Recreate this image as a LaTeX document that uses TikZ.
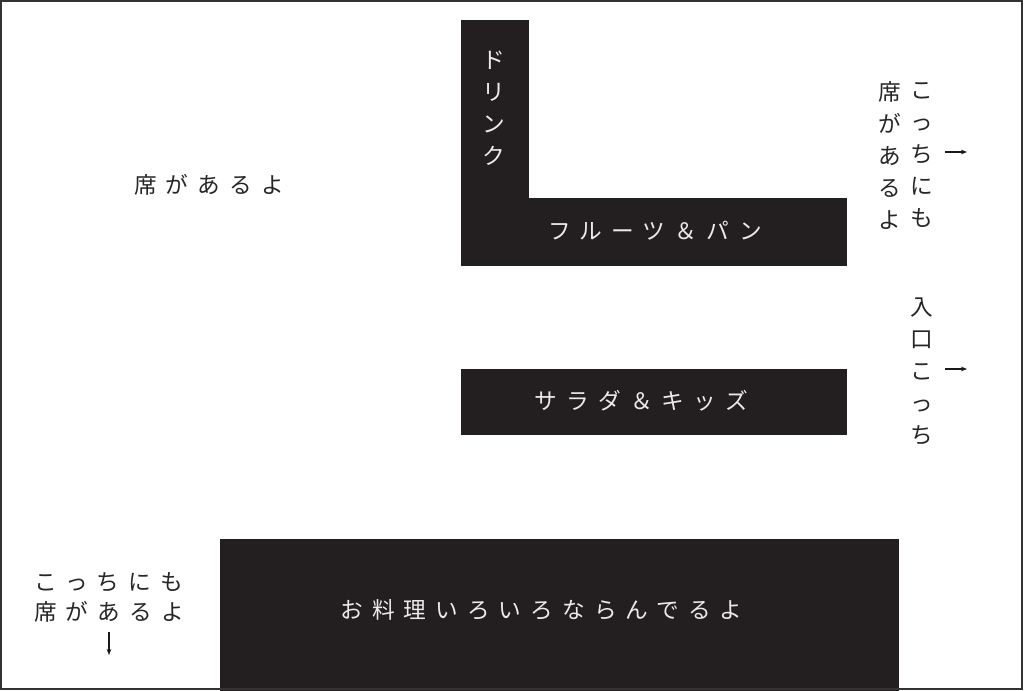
\documentclass[tikz,border=0pt]{standalone}
\usepackage{fontspec}
\newfontfamily\jpfont[LetterSpace=40]{Noto Sans CJK JP}
\newfontfamily\jpcol{Noto Sans CJK JP}
\usetikzlibrary{arrows.meta,positioning}
\definecolor{boothdark}{HTML}{231F20}
\definecolor{framegray}{HTML}{333333}

\begin{document}
\begin{tikzpicture}[
    x=0.75pt, y=-0.75pt,
    booth/.style={rectangle, draw=boothdark, fill=boothdark, inner sep=0pt, outer sep=0pt},
    boothtext/.style={text=white!92!black, font=\jpfont\fontsize{17}{24}\selectfont, inner sep=0pt},
    note/.style={text=black!85, font=\jpfont\fontsize{17}{22.5}\selectfont, align=center, inner sep=0pt},
    column/.style={text=black!85, font=\jpcol\fontsize{17}{24}\selectfont, align=center, inner sep=0pt},
    pointer/.style={-{Stealth[length=4.5pt,width=3.5pt]}, line width=0.9pt, black!90}
]
\useasboundingbox (0,0) rectangle (1024,690);

% Booths
\node[booth, minimum width=50.25pt, minimum height=133.5pt] (drink) at (494.5,109) {};
\node[booth, minimum width=288.75pt, minimum height=50.25pt] (fruit) at (653.5,231.5) {};
\node[booth, minimum width=288.75pt, minimum height=48.75pt] (salad) at (653.5,401.5) {};
\node[booth, minimum width=508.5pt, minimum height=113.25pt] (dishes) at (559,614.5) {};

% Booth labels
\node[column, text=white!92!black] (drinklabel) at (494,108.5) {ド\\リ\\ン\\ク};
\node[boothtext] (fruitlabel) at (655,231) {フルーツ＆パン};
\node[boothtext] (saladlabel) at (641.5,401) {サラダ＆キッズ};
\node[boothtext] (disheslabel) at (541.5,610) {お料理いろいろならんでるよ};

% Seats
\node[note] (seatleft) at (209,185) {席があるよ};
\node[column] (seatright1) at (922,155) {こ\\っ\\ち\\に\\も};
\node[column] (seatright2) at (890,155) {席\\が\\あ\\る\\よ};
\node[note] (seatbottom) at (109,597) {こっちにも\\席があるよ};

% Entrance
\node[column] (entrance) at (922,371) {入\\口\\こ\\っ\\ち};

% Arrows
\coordinate (seatarrow) at (945,152);
\coordinate (seatarrowend) at (967,152);
\coordinate (entrancearrow) at (945,369);
\coordinate (entrancearrowend) at (967,369);
\coordinate (bottomarrow) at (109,632);
\coordinate (bottomarrowend) at (109,655);
\draw[pointer] (seatarrow) -- (seatarrowend);
\draw[pointer] (entrancearrow) -- (entrancearrowend);
\draw[pointer] (bottomarrow) -- (bottomarrowend);

% Frame
\draw[framegray, line width=1.5pt] (1,1) rectangle (1022,688.5);

\end{tikzpicture}
\end{document}
